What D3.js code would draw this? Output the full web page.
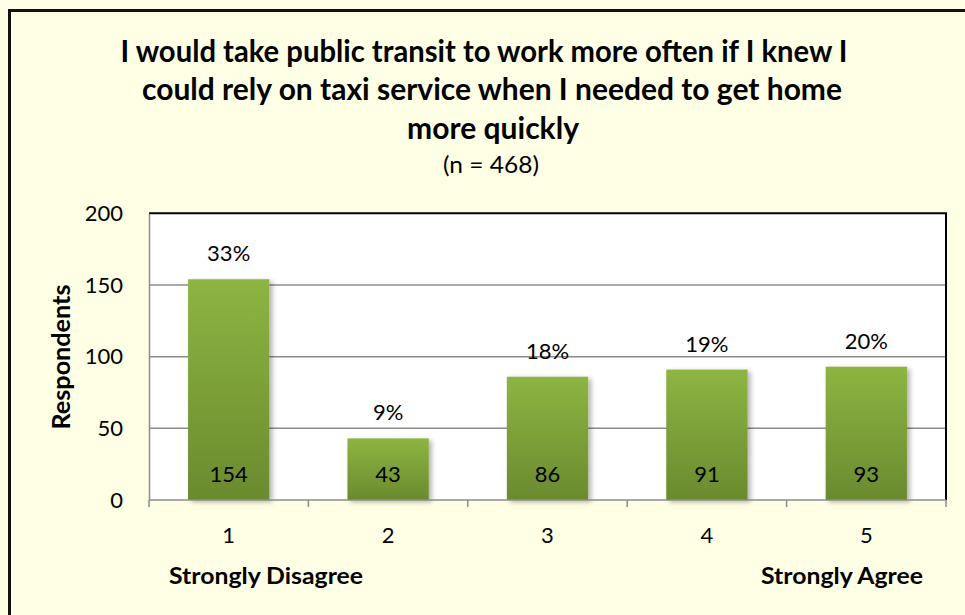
<!DOCTYPE html>
<html>
<head>
<meta charset="utf-8">
<script src="https://cdn.jsdelivr.net/npm/d3@7"></script>
<style>
  html, body { margin: 0; padding: 0; background: #ffffe5; }
  svg { display: block; }
  text { font-family: Lato, "Open Sans", sans-serif; fill: #000; }
</style>
</head>
<body>
<script>
const categories = ["1", "2", "3", "4", "5"];
const values = [154, 43, 86, 91, 93];
const percentLabels = ["33%", "9%", "18%", "19%", "20%"];
const yTicks = [0, 50, 100, 150, 200];
const titleLines = [
  "I would take public transit to work more often if I knew I",
  "could rely on taxi service when I needed to get home",
  "more quickly"
];
const subtitle = "(n = 468)";
const yAxisTitle = "Respondents";
const endLabels = ["Strongly Disagree", "Strongly Agree"];

const W = 965, H = 615;
const plot = { left: 149, right: 946, top: 213.3, bottom: 500 };

const svg = d3.select("body").append("svg").attr("width", W).attr("height", H);

const defs = svg.append("defs");
const grad = defs.append("linearGradient").attr("id", "barGrad")
  .attr("x1", 0).attr("y1", 0).attr("x2", 0).attr("y2", 1);
grad.append("stop").attr("offset", "0%").attr("stop-color", "#8db542");
grad.append("stop").attr("offset", "100%").attr("stop-color", "#6a8a2e");
const flt = defs.append("filter").attr("id", "shadow")
  .attr("x", "-20%").attr("y", "-10%").attr("width", "150%").attr("height", "120%");
flt.append("feDropShadow").attr("dx", 3).attr("dy", 2).attr("stdDeviation", 2.5)
  .attr("flood-color", "#000").attr("flood-opacity", 0.3);

// background and outer border
svg.append("rect").attr("x", 0).attr("y", 0).attr("width", W).attr("height", H).attr("fill", "#ffffe5");
svg.append("rect").attr("x", 9.5).attr("y", 10.5).attr("width", W + 20).attr("height", H + 20)
  .attr("fill", "none").attr("stroke", "#111").attr("stroke-width", 3);

// plot area
svg.append("rect").attr("x", plot.left).attr("y", plot.top)
  .attr("width", plot.right - plot.left).attr("height", plot.bottom - plot.top)
  .attr("fill", "#fff");

const x = d3.scaleBand().domain(categories).range([plot.left, plot.right]).paddingInner(0.49).paddingOuter(0.245);
const xOuter = d3.scaleBand().domain(categories).range([plot.left, plot.right]);
const y = d3.scaleLinear().domain([0, 200]).range([plot.bottom, plot.top]);

// gridlines
svg.append("g").selectAll("line").data(yTicks.filter(d => d > 0 && d < 200)).join("line")
  .attr("x1", plot.left).attr("x2", plot.right)
  .attr("y1", d => y(d)).attr("y2", d => y(d))
  .attr("stroke", "#8c8c8c").attr("stroke-width", 1.5);

// plot border top and right (black)
svg.append("path")
  .attr("d", `M${plot.left},${plot.top}H${plot.right}V${plot.bottom}`)
  .attr("fill", "none").attr("stroke", "#000").attr("stroke-width", 2);

// bars
svg.append("g").selectAll("rect").data(values).join("rect")
  .attr("x", (d, i) => x(categories[i]))
  .attr("y", d => y(d))
  .attr("width", x.bandwidth())
  .attr("height", d => y(0) - y(d))
  .attr("fill", "url(#barGrad)")
  .attr("filter", "url(#shadow)");

// y axis
const yAxis = d3.axisLeft(y).tickValues(yTicks).tickSize(0).tickPadding(26);
const gy = svg.append("g").attr("transform", `translate(${plot.left},0)`).call(yAxis);
gy.select(".domain").attr("stroke", "#8c8c8c").attr("stroke-width", 1.5);
gy.selectAll("text").style("font-size", "22px").style("font-family", "Lato, sans-serif").attr("fill", "#000");

// x axis with boundary ticks
const gx = svg.append("g").attr("transform", `translate(0,${plot.bottom})`);
gx.append("line").attr("x1", plot.left).attr("x2", plot.right).attr("y1", 0).attr("y2", 0)
  .attr("stroke", "#8c8c8c").attr("stroke-width", 1.5);
const bounds = categories.map(c => xOuter(c)).concat([plot.right]);
gx.selectAll("line.tk").data(bounds).join("line").attr("class", "tk")
  .attr("x1", d => d).attr("x2", d => d).attr("y1", 0).attr("y2", 7)
  .attr("stroke", "#8c8c8c").attr("stroke-width", 1.5);
gx.selectAll("text").data(categories).join("text")
  .attr("x", d => xOuter(d) + xOuter.bandwidth() / 2)
  .attr("y", 43)
  .attr("text-anchor", "middle")
  .style("font-size", "22px")
  .text(d => d);

// percent labels above bars
svg.append("g").selectAll("text").data(percentLabels).join("text")
  .attr("x", (d, i) => x(categories[i]) + x.bandwidth() / 2)
  .attr("y", (d, i) => y(values[i]) - 18)
  .attr("text-anchor", "middle")
  .style("font-size", "22px")
  .text(d => d);

// value labels inside bars
svg.append("g").selectAll("text").data(values).join("text")
  .attr("x", (d, i) => x(categories[i]) + x.bandwidth() / 2)
  .attr("y", y(0) - 18)
  .attr("text-anchor", "middle")
  .style("font-size", "22px")
  .text(d => d);

// title
const titleLens = [727, 700, 172];
const titleX = [484, 492, 493];
const titleY = [62, 100, 139];
svg.append("g").selectAll("text").data(titleLines).join("text")
  .attr("x", (d, i) => titleX[i])
  .attr("y", (d, i) => titleY[i])
  .attr("text-anchor", "middle")
  .attr("textLength", (d, i) => titleLens[i])
  .attr("lengthAdjust", "spacingAndGlyphs")
  .style("font-size", "30px").style("font-weight", "bold")
  .text(d => d);
svg.append("text").attr("x", 491).attr("y", 173).attr("text-anchor", "middle")
  .attr("textLength", 96).attr("lengthAdjust", "spacingAndGlyphs")
  .style("font-size", "23px").text(subtitle);

// y axis title
svg.append("text").attr("transform", "translate(70,357) rotate(-90)")
  .attr("text-anchor", "middle").style("font-size", "24px").style("font-weight", "bold")
  .attr("textLength", 145).attr("lengthAdjust", "spacingAndGlyphs")
  .text(yAxisTitle);

// end labels
svg.append("text").attr("x", 169).attr("y", 584).style("font-size", "22px").style("font-weight", "bold")
  .attr("textLength", 194).attr("lengthAdjust", "spacingAndGlyphs").text(endLabels[0]);
svg.append("text").attr("x", 923).attr("y", 584).attr("text-anchor", "end")
  .style("font-size", "22px").style("font-weight", "bold")
  .attr("textLength", 162).attr("lengthAdjust", "spacingAndGlyphs").text(endLabels[1]);
</script>
</body>
</html>
